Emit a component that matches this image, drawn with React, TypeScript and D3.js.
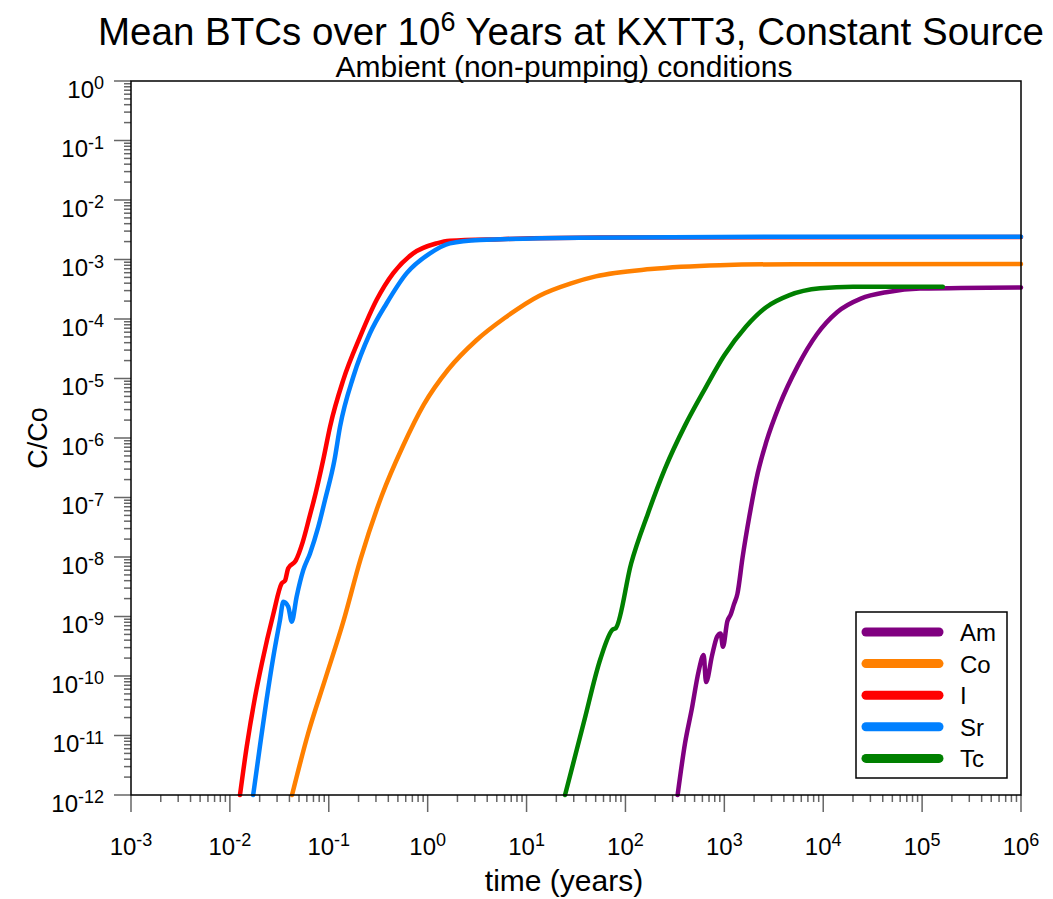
import React from "react";
import * as d3 from "d3";

type Pt = [number, number];

// time (years), C/Co
const amData: Pt[] = [
  [337, 1e-12], [401, 7.5e-12], [469, 2.8e-11], [548, 1.17e-10], [618, 2.25e-10],
  [653, 7.9e-11], [753, 2.25e-10], [845, 4.6e-10], [916, 5.2e-10], [968, 3.1e-10],
  [1072, 8.3e-10], [1160, 1.08e-9], [1250, 1.6e-9], [1356, 2.4e-9], [1530, 9.9e-9],
  [1790, 4.8e-8], [2180, 2.6e-7], [2650, 8.5e-7], [3620, 3.6e-6], [5500, 1.6e-5],
  [8600, 5.5e-5], [1.38e4, 1.3e-4], [2.4e4, 2.2e-4], [4.5e4, 2.85e-4], [9.5e4, 3.25e-4],
  [1e6, 3.4e-4],
];
const coData: Pt[] = [
  [0.0425, 1e-12], [0.0617, 1.07e-11], [0.0929, 9.3e-11], [0.14, 8.1e-10], [0.21, 9.3e-9],
  [0.344, 1.08e-7], [0.56, 7.2e-7], [0.916, 3.67e-6], [1.62, 1.43e-5], [3.11, 4.4e-5],
  [6.0, 1.04e-4], [13.5, 2.47e-4], [28.2, 3.98e-4], [50, 5.2e-4], [181, 6.9e-4],
  [903, 8.0e-4], [5000, 8.35e-4], [1e6, 8.4e-4],
];
const iData: Pt[] = [
  [0.01265, 1e-12], [0.0148, 6.5e-12], [0.018, 4.5e-11], [0.021, 1.6e-10], [0.0275, 1.1e-9],
  [0.0334, 3.6e-9], [0.0361, 4.0e-9], [0.0389, 6.5e-9], [0.0463, 8.7e-9], [0.0546, 1.8e-8],
  [0.0646, 5.1e-8], [0.0697, 8.2e-8], [0.0891, 4.8e-7], [0.103, 1.55e-6], [0.14, 9.4e-6],
  [0.207, 5.0e-5], [0.305, 2.1e-4], [0.449, 5.9e-4], [0.714, 1.27e-3], [1.23, 1.87e-3],
  [1.68, 2.07e-3], [5.4, 2.2e-3], [55, 2.34e-3], [1e6, 2.4e-3],
];
const srData: Pt[] = [
  [0.0172, 1e-12], [0.0201, 6.5e-12], [0.0235, 4.0e-11], [0.0275, 2.1e-10], [0.0321, 8.7e-10],
  [0.0347, 1.77e-9], [0.0389, 1.46e-9], [0.0422, 8.2e-10], [0.0473, 2.15e-9], [0.0552, 6.0e-9],
  [0.0646, 1.15e-8], [0.0783, 3.2e-8], [0.0916, 9.1e-8], [0.114, 4.2e-7], [0.13, 1.55e-6],
  [0.177, 1.07e-5], [0.261, 5.75e-5], [0.385, 1.84e-4], [0.614, 5.9e-4], [1.055, 1.27e-3],
  [1.68, 1.87e-3], [3.38, 2.13e-3], [34.7, 2.32e-3], [3650, 2.42e-3], [1e6, 2.42e-3],
];
const tcData: Pt[] = [
  [24.5, 1e-12], [37.9, 1.65e-11], [56, 1.97e-10], [74, 6.0e-10], [80, 6.4e-10],
  [114, 7.7e-9], [169, 5.4e-8], [250, 3.0e-7], [401, 1.63e-6], [643, 6.9e-6],
  [1000, 2.45e-5], [1650, 7.4e-5], [2650, 1.58e-4], [4500, 2.5e-4], [9300, 3.28e-4],
  [2e4, 3.49e-4], [1.62e5, 3.5e-4],
];

const seriesNames = ["Am", "Co", "I", "Sr", "Tc"];
const seriesColors = ["#800080", "#ff8000", "#ff0000", "#0080ff", "#008000"];
const seriesData = [amData, coData, iData, srData, tcData];

const xExponents = [-3, -2, -1, 0, 1, 2, 3, 4, 5, 6];
const yExponents = [0, -1, -2, -3, -4, -5, -6, -7, -8, -9, -10, -11, -12];

const W = 1053;
const H = 899;
const left = 131, right = 1021, top = 81, bottom = 795;
const font = "'Liberation Sans', Arial, sans-serif";

export default function App() {
  const x = d3.scaleLog().domain([1e-3, 1e6]).range([left, right]);
  const y = d3.scaleLog().domain([1e-12, 1]).range([bottom, top]);

  const line = d3
    .line<Pt>()
    .x((d) => x(d[0]))
    .y((d) => y(d[1]))
    .curve(d3.curveMonotoneX);

  const minorX: number[] = [];
  xExponents.slice(0, -1).forEach((e) => {
    for (let k = 2; k <= 9; k++) minorX.push(k * 10 ** e);
  });
  const minorY: number[] = [];
  yExponents.slice(1).forEach((e) => {
    for (let k = 2; k <= 9; k++) minorY.push(k * 10 ** e);
  });

  return (
    <svg
      width={W}
      height={H}
      style={{ position: "absolute", left: 0, top: 0, background: "#fff" }}
      fontFamily={font}
    >
      <rect width={W} height={H} fill="#fff" />

      {/* titles */}
      <text x={571} y={45} fontSize={38.5} textAnchor="middle">
        Mean BTCs over 10
        <tspan dy={-14} fontSize={27}>6</tspan>
        <tspan dy={14}> Years at KXTT3, Constant Source</tspan>
      </text>
      <text x={564} y={77} fontSize={30} textAnchor="middle">
        Ambient (non-pumping) conditions
      </text>

      {/* series */}
      <g fill="none" strokeWidth={4.5} strokeLinejoin="round" strokeLinecap="round">
        {seriesData.map((d, i) => (
          <path key={seriesNames[i]} d={line(d) || ""} stroke={seriesColors[i]} />
        ))}
      </g>

      {/* ticks */}
      <g stroke="#666" strokeWidth={1.5}>
        {minorX.map((v) => (
          <line key={"mx" + v} x1={x(v)} x2={x(v)} y1={bottom} y2={bottom + 7} />
        ))}
        {xExponents.map((e) => (
          <line key={"Mx" + e} x1={x(10 ** e)} x2={x(10 ** e)} y1={bottom} y2={bottom + 17} />
        ))}
        {minorY.map((v) => (
          <line key={"my" + v} x1={left - 7} x2={left} y1={y(v)} y2={y(v)} />
        ))}
        {yExponents.map((e) => (
          <line key={"My" + e} x1={left - 17} x2={left} y1={y(10 ** e)} y2={y(10 ** e)} />
        ))}
      </g>

      {/* frame */}
      <rect
        x={left}
        y={top}
        width={right - left}
        height={bottom - top}
        fill="none"
        stroke="#000"
        strokeWidth={1.5}
      />

      {/* x tick labels */}
      {xExponents.map((e) => (
        <text key={"lx" + e} x={x(10 ** e)} y={855} fontSize={24} textAnchor="middle">
          10<tspan dy={-9} fontSize={18}>{e}</tspan>
        </text>
      ))}
      {/* y tick labels */}
      {yExponents.map((e) => (
        <text key={"ly" + e} x={104} y={y(10 ** e) + 16.5} fontSize={24} textAnchor="end">
          10<tspan dy={-8.5} fontSize={18}>{e}</tspan>
        </text>
      ))}

      <text x={564} y={891} fontSize={30} textAnchor="middle">
        time (years)
      </text>
      <text
        transform={`translate(47, ${(top + bottom) / 2}) rotate(-90)`}
        fontSize={27}
        textAnchor="middle"
      >
        C/Co
      </text>

      {/* legend */}
      <rect x={856} y={612} width={151} height={166} fill="#fff" stroke="#000" strokeWidth={1.5} />
      {seriesNames.map((n, i) => {
        const ry = 632 + i * 31.6;
        return (
          <g key={"lg" + n}>
            <line x1={866} x2={939} y1={ry} y2={ry} stroke={seriesColors[i]} strokeWidth={9} strokeLinecap="round" />
            <text x={960} y={ry + 9} fontSize={24}>
              {n}
            </text>
          </g>
        );
      })}
    </svg>
  );
}
